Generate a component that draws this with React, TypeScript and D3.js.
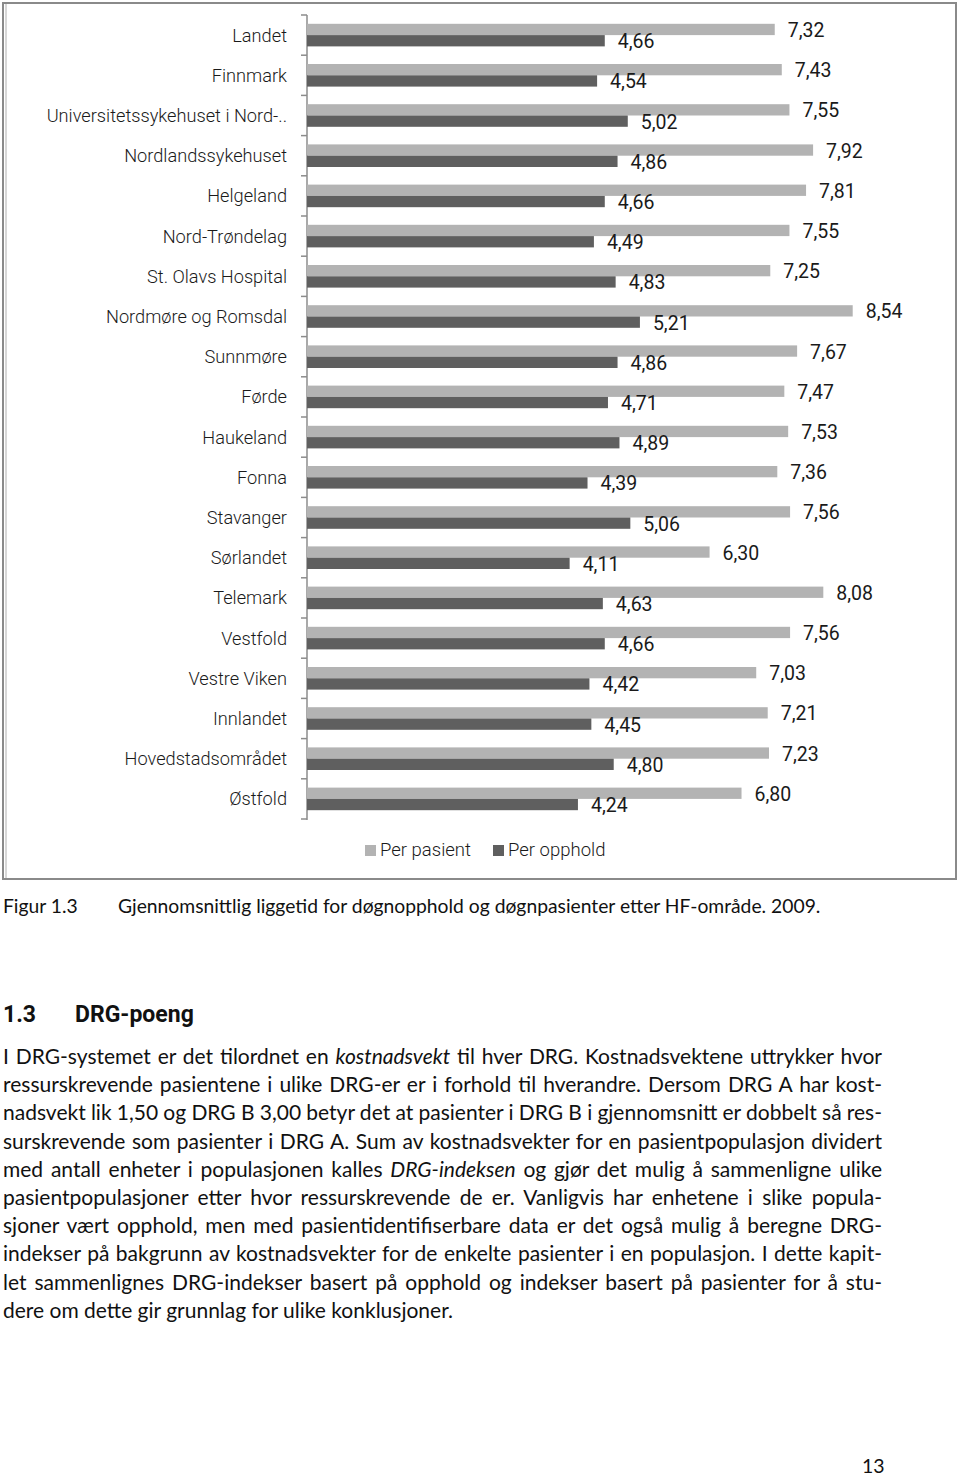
import React, { useEffect, useRef } from "react";
import * as d3 from "d3";

const categories = [
  "Landet",
  "Finnmark",
  "Universitetssykehuset i Nord-..",
  "Nordlandssykehuset",
  "Helgeland",
  "Nord-Trøndelag",
  "St. Olavs Hospital",
  "Nordmøre og Romsdal",
  "Sunnmøre",
  "Førde",
  "Haukeland",
  "Fonna",
  "Stavanger",
  "Sørlandet",
  "Telemark",
  "Vestfold",
  "Vestre Viken",
  "Innlandet",
  "Hovedstadsområdet",
  "Østfold",
];
const perPasient = [7.32, 7.43, 7.55, 7.92, 7.81, 7.55, 7.25, 8.54, 7.67, 7.47, 7.53, 7.36, 7.56, 6.3, 8.08, 7.56, 7.03, 7.21, 7.23, 6.8];
const perOpphold = [4.66, 4.54, 5.02, 4.86, 4.66, 4.49, 4.83, 5.21, 4.86, 4.71, 4.89, 4.39, 5.06, 4.11, 4.63, 4.66, 4.42, 4.45, 4.8, 4.24];
const seriesNames = ["Per pasient", "Per opphold"];
const seriesColors = ["#b3b3b3", "#5f5f5f"];

const captionLabel = "Figur 1.3";
const captionText = "Gjennomsnittlig liggetid for døgnopphold og døgnpasienter etter HF-område. 2009.";
const headingNum = "1.3";
const headingText = "DRG-poeng";
// each line: array of [text, italic]
const bodyLines: [string, boolean][][] = [
  [["I DRG-systemet er det tilordnet en ", false], ["kostnadsvekt", true], [" til hver DRG. Kostnadsvektene uttrykker hvor", false]],
  [["ressurskrevende pasientene i ulike DRG-er er i forhold til hverandre. Dersom DRG A har kost-", false]],
  [["nadsvekt lik 1,50 og DRG B 3,00 betyr det at pasienter i DRG B i gjennomsnitt er dobbelt så res-", false]],
  [["surskrevende som pasienter i DRG A. Sum av kostnadsvekter for en pasientpopulasjon dividert", false]],
  [["med antall enheter i populasjonen kalles ", false], ["DRG-indeksen", true], [" og gjør det mulig å sammenligne ulike", false]],
  [["pasientpopulasjoner etter hvor ressurskrevende de er. Vanligvis har enhetene i slike popula-", false]],
  [["sjoner vært opphold, men med pasientidentifiserbare data er det også mulig å beregne DRG-", false]],
  [["indekser på bakgrunn av kostnadsvekter for de enkelte pasienter i en populasjon. I dette kapit-", false]],
  [["let sammenlignes DRG-indekser basert på opphold og indekser basert på pasienter for å stu-", false]],
  [["dere om dette gir grunnlag for ulike konklusjoner.", false]],
];
const pageNumber = "13";

const fmt = (v: number) => v.toFixed(2).replace(".", ",");

const chartFont = "Roboto, 'Liberation Sans', sans-serif";
const valueFont = "'Liberation Sans Narrow', Roboto, sans-serif";
const bodyFont = "Lato, 'Open Sans', sans-serif";

export default function App() {
  const bodyRef = useRef<SVGGElement>(null);

  const x = d3.scaleLinear().domain([0, 10]).range([307, 946]);
  const y = d3.scaleBand<string>().domain(categories).range([15, 819]).padding(0);
  const inner = d3
    .scaleBand<string>()
    .domain(seriesNames)
    .range([0, y.bandwidth()])
    .paddingInner(0)
    .paddingOuter(0.78);
  const values = [perPasient, perOpphold];
  const tickYs = d3.range(categories.length + 1).map((i) => 15 + i * y.step());

  const bodyLeft = 3;
  const bodyRight = 882;
  const bodyTop = 1064;
  const lineH = 28.2;

  useEffect(() => {
    const g = bodyRef.current;
    if (!g) return;
    d3.select(g)
      .selectAll<SVGTextElement, unknown>("text.just")
      .each(function () {
        const el = this;
        el.setAttribute("word-spacing", "0");
        const len = el.getComputedTextLength();
        const txt = el.textContent || "";
        const spaces = (txt.match(/ /g) || []).length;
        if (spaces > 0) {
          const ws = (bodyRight - bodyLeft - len) / spaces;
          el.setAttribute("word-spacing", String(ws));
        }
      });
  }, []);

  return (
    <svg
      width={960}
      height={1478}
      style={{ position: "absolute", left: 0, top: 0, background: "#fff" }}
    >
      <rect x={0} y={0} width={960} height={1478} fill="#fff" />
      {/* chart frame */}
      <rect x={3} y={3} width={953} height={876} fill="none" stroke="#8a8a8a" strokeWidth={2} />
      <line x1={6} x2={6} y1={4} y2={878} stroke="#b0b0b0" strokeWidth={1} />

      {/* axis */}
      <line x1={307} x2={307} y1={15} y2={820} stroke="#8c8c8c" strokeWidth={1.5} />
      {tickYs.map((ty, i) => (
        <line key={i} x1={301} x2={307} y1={ty} y2={ty} stroke="#8c8c8c" strokeWidth={1.5} />
      ))}

      {/* category labels */}
      {categories.map((c) => (
        <text
          key={c}
          x={287}
          y={(y(c) as number) + y.bandwidth() / 2}
          textAnchor="end"
          dominantBaseline="central"
          fontFamily={chartFont}
          fontWeight={300}
          fontSize={18.2}
          fill="#1a1a1a"
        >
          {c}
        </text>
      ))}

      {/* bars */}
      {seriesNames.map((s, si) => (
        <g key={s}>
          {categories.map((c, ci) => {
            const by = (y(c) as number) + (inner(s) as number);
            const v = values[si][ci];
            return (
              <g key={c}>
                <rect x={x(0)} y={by} width={x(v) - x(0)} height={inner.bandwidth()} fill={seriesColors[si]} />
                <text
                  x={x(v) + 13}
                  y={by + inner.bandwidth() / 2 + 1}
                  dominantBaseline="central"
                  fontFamily={valueFont}
                  fontSize={19.5}
                  fill="#1a1a1a"
                >
                  {fmt(v)}
                </text>
              </g>
            );
          })}
        </g>
      ))}

      {/* legend */}
      {seriesNames.map((s, si) => {
        const lx = si === 0 ? 365 : 493;
        return (
          <g key={s}>
            <rect x={lx} y={845} width={11} height={11} fill={seriesColors[si]} />
            <text
              x={lx + 15}
              y={850}
              dominantBaseline="central"
              fontFamily={chartFont}
              fontWeight={300}
              fontSize={18.5}
              fill="#1a1a1a"
            >
              {s}
            </text>
          </g>
        );
      })}

      {/* caption */}
      <text x={3} y={913} fontFamily={bodyFont} fontSize={19.3} fill="#111">
        {captionLabel}
      </text>
      <text x={118} y={913} fontFamily={bodyFont} fontSize={19.3} fill="#111">
        {captionText}
      </text>

      {/* heading */}
      <text x={3} y={1022} fontFamily="Roboto, sans-serif" fontWeight={700} fontSize={23} fill="#111">
        {headingNum}
      </text>
      <text x={75} y={1022} fontFamily="Roboto, sans-serif" fontWeight={700} fontSize={23} fill="#111">
        {headingText}
      </text>

      {/* body */}
      <g ref={bodyRef}>
        {bodyLines.map((parts, li) => (
          <text
            key={li}
            className={li < bodyLines.length - 1 ? "just" : "last"}
            x={bodyLeft}
            y={bodyTop + li * lineH}
            fontFamily={bodyFont}
            fontSize={21}
            fill="#111"
            style={{ whiteSpace: "pre" }}
          >
            {parts.map(([t, it], pi) => (
              <tspan key={pi} fontStyle={it ? "italic" : "normal"}>
                {t}
              </tspan>
            ))}
          </text>
        ))}
      </g>

      <text x={862} y={1473} fontFamily={bodyFont} fontSize={19.5} fill="#111">
        {pageNumber}
      </text>
    </svg>
  );
}
